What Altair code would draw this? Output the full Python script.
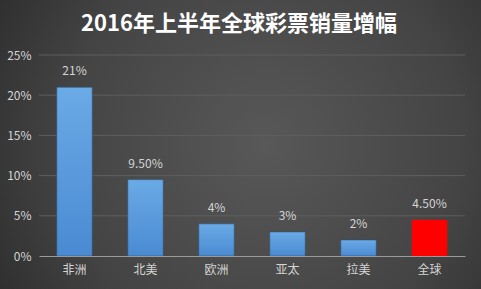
import altair as alt
import pandas as pd

title_text = "2016年上半年全球彩票销量增幅"
regions = ["非洲", "北美", "欧洲", "亚太", "拉美", "全球"]
growth = [0.21, 0.095, 0.04, 0.03, 0.02, 0.045]
value_labels = ["21%", "9.50%", "4%", "3%", "2%", "4.50%"]
highlight = [False, False, False, False, False, True]
grid_values = [0.05, 0.10, 0.15, 0.20, 0.25]

df = pd.DataFrame({"region": regions, "growth": growth, "label": value_labels, "hl": highlight})
grid_df = pd.DataFrame({"g": grid_values})

FONT = "Noto Sans CJK SC"
W, H = 426, 201
PL, PT = 39, 55

x_enc = alt.X("region:N", sort=regions, title=None,
              scale=alt.Scale(paddingInner=0.5, paddingOuter=0.25),
              axis=alt.Axis(labelAngle=0, labelColor="#d4d4d4", labelFontSize=12, labelFont=FONT,
                            domainColor="#9a9a9a", domainWidth=1.2, ticks=False, labelPadding=8,
                            zindex=1))
y_scale = alt.Scale(domain=[0, 0.25])

one = alt.Data(values=[{"a": 1}])

bg = alt.Chart(one).mark_rect(
    fill=alt.RadialGradient(
        gradient="radial", x1=0.55, y1=0.5, r1=0, x2=0.55, y2=0.5, r2=0.75,
        stops=[alt.GradientStop(color="#585858", offset=0),
               alt.GradientStop(color="#444444", offset=0.55),
               alt.GradientStop(color="#242424", offset=1)]),
    stroke=None
).encode(x=alt.value(-PL), x2=alt.value(481 - PL), y=alt.value(-PT), y2=alt.value(289 - PT))

title = alt.Chart(one).mark_text(
    color="#ffffff", fontSize=22, font=FONT, fontWeight="bold", baseline="middle", align="center"
).encode(x=alt.value(200), y=alt.value(-31), text=alt.value(title_text))

grid = alt.Chart(grid_df).mark_rule(color="#5e5e5e", strokeWidth=1).encode(
    y=alt.Y("g:Q", scale=y_scale)
)

bars_blue = alt.Chart(df).transform_filter("!datum.hl").mark_bar(
    color=alt.LinearGradient(
        gradient="linear", x1=0, y1=0, x2=0, y2=1,
        stops=[alt.GradientStop(color="#6aaae6", offset=0),
               alt.GradientStop(color="#4a8ad2", offset=1)]),
    stroke="#2f4f70", strokeWidth=0.6
).encode(
    x=x_enc,
    y=alt.Y("growth:Q", scale=y_scale, title=None,
            axis=alt.Axis(format="%", values=[0, 0.05, 0.1, 0.15, 0.2, 0.25], grid=False,
                          domain=False, ticks=False, labelColor="#d4d4d4", labelFontSize=12,
                          labelFont=FONT, labelPadding=8, zindex=1))
)

bars_red = alt.Chart(df).transform_filter("datum.hl").mark_bar(color="#ff0000").encode(
    x=x_enc, y=alt.Y("growth:Q", scale=y_scale)
)

labels = alt.Chart(df).mark_text(dy=-9, color="#d4d4d4", fontSize=12, font=FONT, baseline="bottom").encode(
    x=x_enc, y=alt.Y("growth:Q", scale=y_scale), text="label:N"
)

chart = alt.layer(bg, title, grid, bars_blue, bars_red, labels).properties(
    width=W, height=H,
    autosize=alt.AutoSizeParams(type="none"),
    padding={"left": PL, "top": PT, "right": 481 - PL - W, "bottom": 289 - PT - H},
    background="#2e2e2e"
).configure_view(stroke=None)

chart.save("out.html", embed_options={"renderer": "svg", "actions": False})
